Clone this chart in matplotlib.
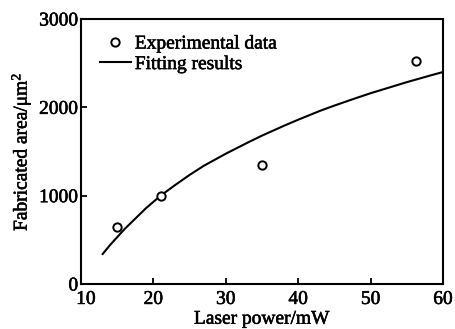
import matplotlib
matplotlib.use("Agg")
import matplotlib.pyplot as plt
import matplotlib.patheffects as pe
import matplotlib.transforms as mtransforms

# Experimental data
exp_power = [15, 21, 35, 56.3]
exp_area = [640, 1000, 1350, 2530]

# Fitting curve
fit_power = [13, 14, 15, 16, 17, 18, 19, 20, 21, 23, 25, 27, 30, 33, 35, 38, 40, 43, 45, 48, 50, 53, 55, 58, 60]
fit_area = [340, 440, 530, 620, 700, 780, 860, 930, 1000, 1120, 1235, 1340, 1475, 1600, 1680, 1790,
            1860, 1960, 2020, 2105, 2160, 2235, 2285, 2355, 2400]

xticks = [10, 20, 30, 40, 50, 60]
yticks = [0, 1000, 2000, 3000]

plt.rcParams['font.family'] = ['Liberation Serif', 'DejaVu Serif']
plt.rcParams['mathtext.fontset'] = 'custom'
plt.rcParams['mathtext.rm'] = 'Liberation Serif'
plt.rcParams['mathtext.it'] = 'Liberation Serif:italic'
plt.rcParams['mathtext.bf'] = 'Liberation Serif:bold'

FS = 14
stroke = [pe.withStroke(linewidth=0.4, foreground='black')]

fig = plt.figure(figsize=(4.56, 3.29), dpi=100)
ax = fig.add_axes([0.1776, 0.1368, 0.9715 - 0.1776, 0.9422 - 0.1368])

ax.plot(exp_power, exp_area, linestyle='none', marker='o', markersize=6,
        markerfacecolor='white', markeredgecolor='black', markeredgewidth=1.4,
        label='Experimental data', zorder=3)
ax.plot(fit_power, fit_area, color='black', linewidth=1.5, label='Fitting results')

ax.set_xlim(10, 60)
ax.set_ylim(0, 3000)
ax.set_xticks(xticks)
ax.set_yticks(yticks)
ax.tick_params(direction='in', length=4, width=1.3, labelsize=FS, top=False, right=False)
ax.tick_params(axis='x', pad=5)
ax.tick_params(axis='y', pad=2)
for s in ax.spines.values():
    s.set_linewidth(1.5)

ax.set_xlabel('Laser power/mW', fontsize=FS, labelpad=2)
ax.set_ylabel(r'Fabricated area/$\mathrm{\mu m^2}$', fontsize=FS, labelpad=4)

leg = ax.legend(loc='upper left', frameon=False, prop={'size': FS},
                handlelength=1.6, handletextpad=0.2, borderaxespad=0.0, borderpad=0.0,
                labelspacing=0.15, bbox_to_anchor=(0.052, 0.94))

# nudge the corner labels apart as in the reference
xl = ax.get_xticklabels()
xl[0].set_transform(xl[0].get_transform() + mtransforms.ScaledTranslation(5 / 100, 0, fig.dpi_scale_trans))

texts = ax.get_xticklabels() + ax.get_yticklabels() + [ax.xaxis.label, ax.yaxis.label] + leg.get_texts()
for t in texts:
    t.set_path_effects(stroke)

fig.savefig('out.png', dpi=100)
